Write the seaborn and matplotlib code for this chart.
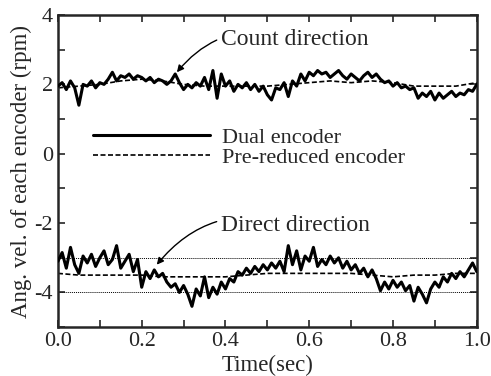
import numpy as np
import pandas as pd
import matplotlib
matplotlib.use('Agg')
import matplotlib.pyplot as plt
from matplotlib.ticker import MultipleLocator
import seaborn as sns

# time axis (sec)
t_fine = np.round(np.arange(0, 1.001, 0.01), 2)
t_coarse = np.round(np.arange(0, 1.001, 0.05), 2)

# count direction, dual encoder (rpm)
count_dual = [
    1.95, 2.05, 1.85, 2.10, 1.90, 1.40, 2.00, 1.95, 2.10, 1.90,
    2.05, 2.00, 2.15, 2.35, 2.10, 2.25, 2.20, 2.30, 2.15, 2.25,
    2.20, 2.10, 2.20, 2.05, 2.15, 2.10, 2.00, 2.10, 2.30, 2.05,
    1.85, 2.00, 1.90, 2.05, 1.95, 2.20, 1.85, 2.40, 1.60, 2.30,
    1.95, 2.10, 1.80, 2.00, 1.90, 2.05, 1.85, 2.00, 1.80, 1.95,
    1.70, 1.55, 1.90, 1.85, 2.05, 1.65, 2.10, 1.95, 2.30, 2.10,
    2.35, 2.25, 2.40, 2.30, 2.35, 2.20, 2.30, 2.40, 2.25, 2.15,
    2.30, 2.20, 2.10, 2.25, 2.35, 2.20, 2.30, 2.15, 2.05, 2.10,
    1.95, 2.05, 1.90, 1.95, 1.85, 1.90, 1.60, 1.75, 1.65, 1.80,
    1.55, 1.75, 1.60, 1.70, 1.80, 1.65, 1.75, 1.70, 1.85, 1.80,
    2.00,
]
# count direction, pre-reduced encoder
count_pre = [1.90, 1.95, 2.00, 2.10, 2.15, 2.10, 2.00, 1.95, 1.95, 1.95, 1.95,
             2.00, 2.05, 2.10, 2.05, 2.10, 2.05, 1.95, 1.95, 1.95, 2.05]

# direct direction, dual encoder
direct_dual = [
    -3.10, -2.85, -3.30, -2.70, -3.20, -3.45, -2.95, -3.15, -2.90, -3.25,
    -3.00, -2.80, -3.20, -3.05, -2.65, -3.30, -3.10, -2.90, -3.40, -3.05,
    -3.85, -3.40, -3.60, -3.35, -3.55, -3.45, -3.70, -3.85, -3.75, -4.00,
    -3.80, -4.05, -4.40, -3.90, -4.10, -3.55, -4.15, -3.85, -4.05, -3.70,
    -3.90, -3.60, -3.70, -3.40, -3.50, -3.30, -3.45, -3.25, -3.40, -3.20,
    -3.35, -3.15, -3.30, -3.10, -3.40, -2.65, -3.20, -2.80, -3.35, -2.95,
    -3.10, -2.70, -3.25, -3.05, -3.20, -2.95, -3.15, -3.00, -3.30, -3.10,
    -3.35, -3.20, -3.45, -3.30, -3.55, -3.35, -3.60, -3.95, -3.70, -3.90,
    -3.65, -3.85, -3.70, -3.95, -3.80, -4.25, -3.85, -4.05, -4.30, -3.90,
    -3.70, -3.85, -3.55, -3.70, -3.45, -3.60, -3.40, -3.55, -3.35, -3.15,
    -3.40,
]
# direct direction, pre-reduced encoder
direct_pre = [-3.45, -3.50, -3.50, -3.50, -3.50, -3.55, -3.55, -3.55, -3.55, -3.50, -3.45,
              -3.45, -3.45, -3.45, -3.45, -3.50, -3.55, -3.50, -3.50, -3.45, -3.45]

ref_levels = [-3, -4]

sns.set_style('ticks')
plt.rcParams['font.family'] = ['Liberation Serif', 'DejaVu Serif']
plt.rcParams['axes.unicode_minus'] = False

fig = plt.figure(figsize=(4.91, 3.76), dpi=100)
ax = fig.add_axes([0.118, 0.130, 0.853, 0.830])

for lvl in ref_levels:
    ax.axhline(lvl, color='black', lw=0.7, ls=(0, (1, 1)), zorder=1)

dash = (0, (3, 1.5))
sns.lineplot(x=t_fine, y=count_dual, ax=ax, color='black', lw=2.2, label='Dual encoder', zorder=3)
sns.lineplot(x=t_coarse, y=count_pre, ax=ax, color='black', lw=1.2, ls=dash, label='Pre-reduced encoder', zorder=2)
sns.lineplot(x=t_fine, y=direct_dual, ax=ax, color='black', lw=2.2, label='_nolegend_', zorder=3)
sns.lineplot(x=t_coarse, y=direct_pre, ax=ax, color='black', lw=1.2, ls=dash, label='_nolegend_', zorder=2)

ax.set_xlim(0, 1.0)
ax.set_ylim(-5, 4)
ax.xaxis.set_major_locator(MultipleLocator(0.2))
ax.xaxis.set_minor_locator(MultipleLocator(0.1))
ax.yaxis.set_major_locator(MultipleLocator(2))
ax.yaxis.set_minor_locator(MultipleLocator(1))
ax.xaxis.set_major_formatter(plt.FormatStrFormatter('%.1f'))
ax.tick_params(which='both', direction='in', top=True, right=True, width=1.2, labelsize=16)
ax.tick_params(which='major', length=5)
ax.tick_params(which='minor', length=5)
for s in ax.spines.values():
    s.set_linewidth(1.8)

ax.set_xlabel('Time(sec)', fontsize=16.5, labelpad=3)
ax.set_ylabel('Ang. vel. of each encoder (rpm)', fontsize=16.5, labelpad=2)

leg = ax.legend(loc='center left', bbox_to_anchor=(0.083, 0.575), frameon=False,
                fontsize=16, handlelength=5.3, handletextpad=0.5, labelspacing=0.0,
                borderpad=0, borderaxespad=0)

ax.annotate('Count direction', xy=(0.284, 2.35), xytext=(0.39, 3.3), fontsize=17,
            va='center', ha='left',
            arrowprops=dict(arrowstyle='-|>', color='black', lw=1, shrinkA=1, shrinkB=0,
                            connectionstyle='arc3,rad=0.35', mutation_scale=10))
ax.annotate('Direct direction', xy=(0.236, -3.2), xytext=(0.39, -2.07), fontsize=17,
            va='center', ha='left',
            arrowprops=dict(arrowstyle='-|>', color='black', lw=1, shrinkA=1, shrinkB=0,
                            connectionstyle='arc3,rad=0.35', mutation_scale=10))

fig.savefig('out.png', dpi=100)
